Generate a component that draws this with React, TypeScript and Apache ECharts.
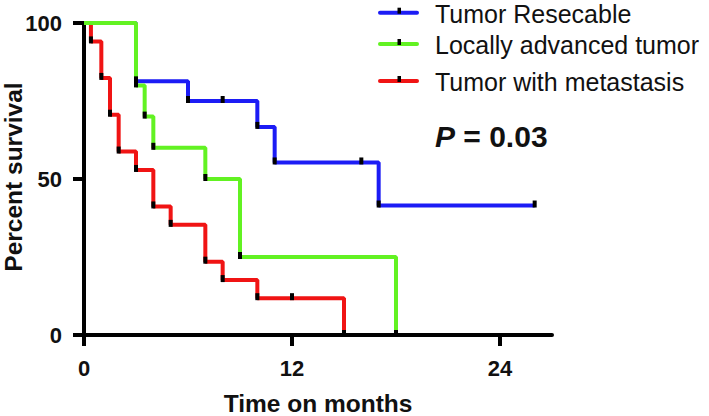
import React, { useEffect, useRef } from "react";
import * as echarts from "echarts";

const FONT = "'Liberation Sans', Arial, Helvetica, sans-serif";

// Kaplan-Meier curves (time in months, percent survival)
const resecableTime = [0, 3, 6, 8, 10, 11, 16, 17, 26];
const resecableSurv = [100, 81.3, 75, 75, 66.7, 55.3, 55.3, 41.5, 41.5];

const locallyTime = [0, 3, 3.5, 4, 7, 9, 18];
const locallySurv = [100, 80, 70, 60, 50, 25, 0];

const metaTime = [0, 0.4, 1, 1.5, 2, 3, 4, 5, 7, 8, 10, 12, 15];
const metaSurv = [100, 94.1, 82.4, 70.6, 58.8, 52.9, 41.2, 35.3, 23.5, 17.6, 11.8, 11.8, 0];

const seriesNames = ["Tumor Resecable", "Locally advanced tumor", "Tumor with metastasis"];
const seriesColors = ["#1c1cf5", "#62f222", "#f01414"];

const xTicks = [0, 12, 24];
const yTicks = [0, 50, 100];
const pValueText = "0.03";
const xTitle = "Time on months";
const yTitle = "Percent survival";

function buildData(t: number[], s: number[]) {
  return t.map((v, i) =>
    i === 0 ? { value: [v, s[i]], symbol: "none" } : { value: [v, s[i]] }
  );
}

export default function App() {
  const ref = useRef<HTMLDivElement>(null);
  useEffect(() => {
    if (!ref.current) return;
    const chart = echarts.init(ref.current, undefined, { renderer: "svg" });

    const curves = [
      { t: resecableTime, s: resecableSurv, i: 0 },
      { t: metaTime, s: metaSurv, i: 2 },
      { t: locallyTime, s: locallySurv, i: 1 },
    ];

    const legendRows = [12.7, 44, 81];
    const legendGraphics: any[] = [];
    seriesNames.forEach((name, i) => {
      const y = legendRows[i];
      legendGraphics.push({
        type: "line",
        shape: { x1: 380, y1: y, x2: 417, y2: y },
        style: { stroke: seriesColors[i], lineWidth: 4, lineCap: "round" },
      });
      legendGraphics.push({
        type: "rect",
        shape: { x: 397.5, y: y - 5, width: 3.5, height: 6 },
        style: { fill: "#000" },
      });
      legendGraphics.push({
        type: "text",
        x: 435,
        y: y + 0.8,
        style: {
          text: name,
          fontFamily: FONT,
          fontSize: 25,
          fill: "#111",
          verticalAlign: "middle",
          align: "left",
        },
      });
    });
    legendGraphics.push({
      type: "text",
      x: 435,
      y: 136,
      style: {
        text: "{p|P}{n| = " + pValueText + "}",
        verticalAlign: "middle",
        align: "left",
        rich: {
          p: { fontFamily: FONT, fontSize: 30, fontWeight: "bold", fontStyle: "italic", fill: "#111" },
          n: { fontFamily: FONT, fontSize: 30, fontWeight: "bold", fill: "#111" },
        },
      },
    });
    legendGraphics.push({
      type: "text",
      x: 13.5,
      y: 177,
      rotation: Math.PI / 2,
      style: {
        text: yTitle,
        fontFamily: FONT,
        fontSize: 24.5,
        fontWeight: "bold",
        fill: "#111",
        align: "center",
        verticalAlign: "middle",
      },
    });

    chart.setOption({
      animation: false,
      grid: { left: 84, right: 157, top: 23, bottom: 81, containLabel: false, outerBoundsMode: "none" },
      xAxis: {
        type: "value",
        min: 0,
        max: 27,
        interval: 12,
        name: xTitle,
        nameLocation: "middle",
        nameGap: 56,
        nameTextStyle: { fontFamily: FONT, fontSize: 24.5, fontWeight: "bold", color: "#111" },
        axisLine: { lineStyle: { color: "#000", width: 4 } },
        axisTick: { length: 11, lineStyle: { color: "#000", width: 4 }, customValues: xTicks },
        axisLabel: {
          customValues: xTicks,
          margin: 22,
          fontFamily: FONT,
          fontSize: 22,
          fontWeight: "bold",
          color: "#111",
        },
        splitLine: { show: false },
      },
      yAxis: {
        type: "value",
        min: 0,
        max: 100,
        interval: 50,
        axisLine: { show: true, lineStyle: { color: "#000", width: 4 } },
        axisTick: { show: true, length: 11, lineStyle: { color: "#000", width: 4 }, customValues: yTicks },
        axisLabel: {
          customValues: yTicks,
          margin: 22,
          fontFamily: FONT,
          fontSize: 22,
          fontWeight: "bold",
          color: "#111",
        },
        splitLine: { show: false },
      },
      series: curves.map((c) => ({
        type: "line",
        name: seriesNames[c.i],
        step: "end",
        data: buildData(c.t, c.s),
        symbol: "rect",
        symbolSize: [4, 7],
        symbolOffset: [0, -1.5],
        showSymbol: true,
        itemStyle: { color: "#000" },
        lineStyle: { color: seriesColors[c.i], width: 4 },
        emphasis: { disabled: true },
      })),
      graphic: legendGraphics,
    });

    return () => chart.dispose();
  }, []);

  return (
    <div
      ref={ref}
      style={{ position: "absolute", left: 0, top: 0, width: 709, height: 416, background: "#fff" }}
    />
  );
}
